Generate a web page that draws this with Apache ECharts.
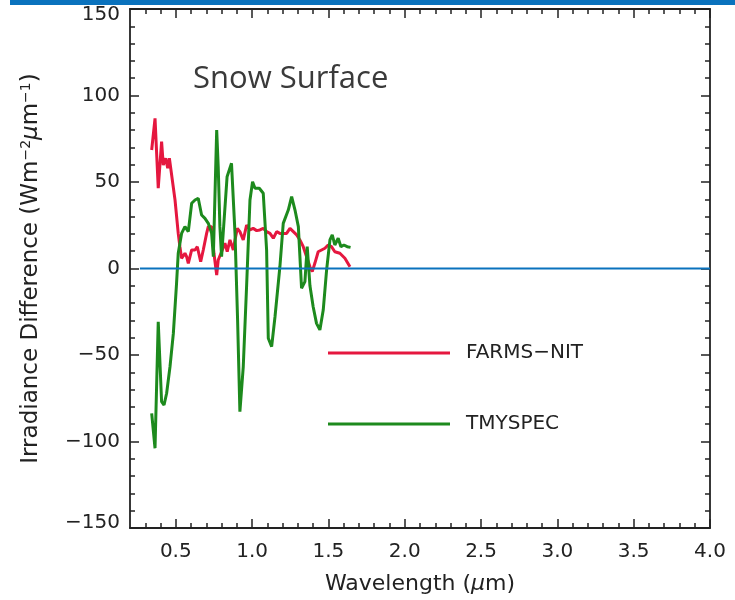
<!DOCTYPE html>
<html lang="en">
<head>
<meta charset="UTF-8">
<title>Snow Surface</title>
<script src="https://cdn.jsdelivr.net/npm/echarts@6.0.0/dist/echarts.min.js"></script>
<style>
  body { margin: 0; padding: 0; background: #fff; overflow: hidden; }
  #chart { width: 735px; height: 600px; }
</style>
</head>
<body>
<div id="chart"></div>
<script>
// wavelength (um) / irradiance difference
var farmsWave = [0.342,0.364,0.385,0.407,0.418,0.434,0.447,0.458,0.495,0.516,0.527,0.538,0.560,0.571,0.582,0.604,0.626,0.641,0.663,0.680,
                 0.702,0.713,0.735,0.750,0.768,0.778,0.800,0.822,0.837,0.855,0.877,0.888,0.903,0.920,0.942,0.964,0.986,1.007,1.030,1.051,
                 1.073,1.095,1.117,1.139,1.161,1.182,1.204,1.226,1.248,1.270,1.292,1.313,1.335,1.357,1.379,1.394,1.411,1.433,1.455,1.477,
                 1.498,1.520,1.542,1.575,1.608,1.641];
var farmsVal  = [68.5,86.8,46.4,73.3,59.8,63.7,57.9,63.7,39.6,20.3,12.6,5.9,8.8,6.8,3.0,10.7,10.7,12.6,3.9,10.7,
                 20.3,24.2,24.2,8.8,-3.8,4.9,9.7,14.6,9.7,16.5,10.7,16.5,23.2,21.3,16.5,25.1,22.3,23.2,21.9,22.3,
                 23.2,21.3,20.3,17.5,21.3,20.3,20.3,20.3,23.2,21.3,19.4,16.5,12.6,6.8,1.0,-1.8,3.0,9.7,10.7,11.7,
                 13.6,12.6,9.7,8.8,5.9,1.0];

var tmyWave = [0.342,0.364,0.385,0.407,0.423,0.440,0.462,0.484,0.505,0.516,0.538,0.560,0.582,0.604,0.626,0.647,0.669,0.691,0.713,0.735,
               0.746,0.768,0.778,0.789,0.800,0.836,0.865,0.888,0.905,0.920,0.942,0.964,0.986,1.003,1.019,1.047,1.073,1.095,1.106,1.128,
               1.150,1.182,1.204,1.237,1.259,1.281,1.303,1.324,1.346,1.361,1.379,1.400,1.422,1.444,1.466,1.488,1.510,1.525,1.542,1.564,
               1.582,1.601,1.623,1.645];
var tmyVal  = [-83.7,-103.9,-30.8,-77.0,-78.9,-72.1,-56.8,-37.5,-8.6,8.8,20.3,24.2,21.3,37.7,39.6,40.6,30.9,29.0,26.1,20.3,
               6.8,80.0,58.8,24.2,6.8,53.0,60.8,20.3,-30.0,-82.8,-56.8,-10.0,39.6,50.2,46.4,46.4,43.5,10.7,-40.3,-45.2,
               -27.9,1.0,26.1,33.8,41.5,33.8,24.2,-11.4,-7.6,12.6,-10.0,-22.1,-31.7,-35.5,-24.0,-0.9,16.5,19.4,13.6,17.5,
               12.6,13.6,12.6,12.2];

var zeroWave = [0.265, 4.0];
var zeroVal  = [0, 0];

var xMajor = [0.5, 1.0, 1.5, 2.0, 2.5, 3.0, 3.5, 4.0];
var xMinor = [];
for (var t = 3; t < 40; t++) { if (t % 5 !== 0) xMinor.push(t / 10); }

function pairs(xs, ys) {
  var out = [];
  for (var i = 0; i < xs.length; i++) out.push([xs[i], ys[i]]);
  return out;
}

var font = 'DejaVu Sans';
var ink = '#222';

function xAx(pos, ticks, len, labels, line) {
  return {
    type: 'value', position: pos, min: 0.2, max: 4.0,
    axisLine: { show: line, onZero: false, lineStyle: { color: ink, width: 1.8 } },
    axisTick: { show: true, inside: true, length: len, customValues: ticks, lineStyle: { color: ink, width: 1.5 } },
    axisLabel: labels ? {
      show: true, customValues: ticks, margin: 14, color: ink, fontFamily: font, fontSize: 20,
      formatter: function (v) { return v.toFixed(1); }
    } : { show: false },
    splitLine: { show: false },
    name: labels ? '{t|Wavelength (}{g|μ}{t|m)}' : '',
    nameLocation: 'middle', nameGap: 45,
    nameTextStyle: { rich: {
      t: { fontFamily: font, fontSize: 22, color: ink },
      g: { fontFamily: font, fontSize: 22, color: ink, fontStyle: 'italic' }
    } }
  };
}

function yAx(pos, labels) {
  return {
    type: 'value', position: pos, min: -150, max: 150, interval: 50,
    axisLine: { show: true, onZero: false, lineStyle: { color: ink, width: 1.8 } },
    axisTick: { show: true, inside: true, length: 9, lineStyle: { color: ink, width: 1.5 } },
    minorTick: { show: true, splitNumber: 5, length: 5, lineStyle: { color: ink, width: 1.5 } },
    axisLabel: labels ? {
      show: true, margin: 10, color: ink, fontFamily: font, fontSize: 20,
      formatter: function (v) {
        var s = v < 0 ? '\u2212' + Math.abs(v) : '' + v;
        if (v === 150) return '{lo|' + s + '}';
        if (v === -150) return '{hi|' + s + '}';
        return s;
      },
      rich: {
        lo: { fontFamily: font, fontSize: 20, color: ink, padding: [12, 0, 0, 0] },
        hi: { fontFamily: font, fontSize: 20, color: ink, padding: [0, 0, 10, 0] }
      }
    } : { show: false },
    splitLine: { show: false },
    name: labels ? '{t|Irradiance Difference (Wm}{s|−2}{g|μ}{t|m}{s|−1}{t|)}' : '',
    nameLocation: 'middle', nameRotate: 90, nameGap: 86,
    nameTextStyle: { rich: {
      t: { fontFamily: font, fontSize: 23, color: ink },
      g: { fontFamily: font, fontSize: 23, color: ink, fontStyle: 'italic' },
      s: { fontFamily: font, fontSize: 14, color: ink, padding: [0, 0, 11, 0] }
    } }
  };
}

var chart = echarts.init(document.getElementById('chart'));
chart.setOption({
  animation: false,
  backgroundColor: '#fff',
  grid: { left: 130, right: 25, top: 9, bottom: 72 },
  title: {
    text: 'Snow Surface', left: 188, top: 59,
    textStyle: { fontFamily: 'Open Sans', fontSize: 31, fontWeight: 'normal', color: '#3a3a3a' }
  },
  graphic: [{
    type: 'rect', shape: { x: 10, y: 0, width: 725, height: 5 },
    style: { fill: '#0a72bd' }, silent: true
  }],
  legend: {
    data: ['FARMS\u2212NIT', 'TMYSPEC'],
    orient: 'vertical', left: 328, top: 342, padding: 0,
    icon: 'rect', itemWidth: 122, itemHeight: 3, itemGap: 49,
    textStyle: { fontFamily: font, fontSize: 20, lineHeight: 22, color: ink, padding: [0, 0, 0, 11] }
  },
  xAxis: [
    xAx('bottom', xMajor, 9, true, true),
    xAx('bottom', xMinor, 5, false, false),
    xAx('top', xMajor, 9, false, true),
    xAx('top', xMinor, 5, false, false)
  ],
  yAxis: [yAx('left', true), yAx('right', false)],
  series: [
    {
      name: 'FARMS\u2212NIT', type: 'line', data: pairs(farmsWave, farmsVal),
      showSymbol: false, symbol: 'none',
      lineStyle: { color: '#e5173f', width: 3 }, itemStyle: { color: '#e5173f' }
    },
    {
      name: 'TMYSPEC', type: 'line', data: pairs(tmyWave, tmyVal),
      showSymbol: false, symbol: 'none',
      lineStyle: { color: '#1d8a1d', width: 3 }, itemStyle: { color: '#1d8a1d' }
    },
    {
      name: 'zero', type: 'line', data: pairs(zeroWave, zeroVal),
      showSymbol: false, symbol: 'none',
      lineStyle: { color: '#0a72bd', width: 2.2 }, itemStyle: { color: '#0a72bd' }
    }
  ]
});
</script>
</body>
</html>
